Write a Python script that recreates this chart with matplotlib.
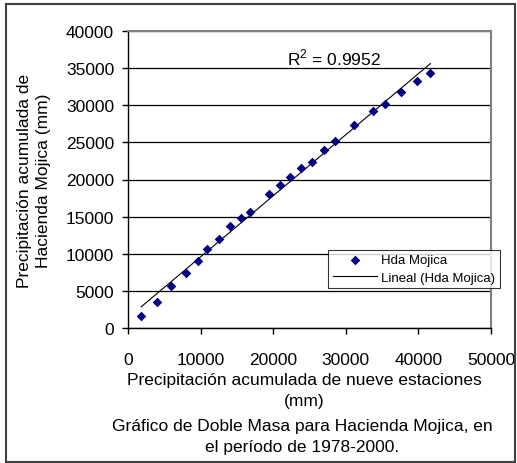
#!/usr/bin/env python

import numpy as np
import matplotlib
matplotlib.use('Agg')
import matplotlib.pyplot as plt
from matplotlib.patches import Rectangle

FIG_W, FIG_H = 517, 464
DPI          = 100
FONT_SIZE    = 12.5
LEGEND_SIZE  = 9.5
MARKER_COLOR = '#000080'

# cumulative precipitation (mm), 1978-2000
nineStations = [1830, 3950, 5880, 7990, 9600, 10840, 12580, 14090, 15610, 16760,
                19380, 20940, 22360, 23870, 25390, 27000, 28550, 31130, 33750,
                35400, 37650, 39850, 41640]
hdaMojica    = [1660, 3500, 5620, 7450, 8980, 10680, 12030, 13700, 14770, 15620,
                18090, 19260, 20300, 21510, 22400, 24010, 25230, 27380, 29270,
                30130, 31790, 33270, 34340]

xTicks  = [0, 10000, 20000, 30000, 40000, 50000]
yTicks  = [0, 5000, 10000, 15000, 20000, 25000, 30000, 35000, 40000]
rSquare = 'R$^2$ = 0.9952'

plt.rcParams['font.family']      = ['Liberation Sans', 'DejaVu Sans']
plt.rcParams['mathtext.fontset'] = 'custom'
plt.rcParams['mathtext.rm']      = 'Liberation Sans'


def px(x, y):
    # pixel position -> figure fraction
    return x / FIG_W, 1 - y / FIG_H


figure = plt.figure(figsize=(FIG_W / DPI, FIG_H / DPI), dpi=DPI)

left, top, right, bottom = 128, 32, 491, 329
ax = figure.add_axes([left / FIG_W, 1 - bottom / FIG_H,
                      (right - left) / FIG_W, (bottom - top) / FIG_H])

ax.scatter(nineStations, hdaMojica, marker='D', s=24, color=MARKER_COLOR,
           linewidths=0, zorder=3, label='Hda Mojica')

slope, intercept = np.polyfit(nineStations, hdaMojica, 1)
xFit = np.array([min(nineStations), max(nineStations)])
ax.plot(xFit, slope * xFit + intercept, color='black', linewidth=0.8, zorder=2,
        label='Lineal (Hda Mojica)')

ax.set_xlim(0, 50000)
ax.set_ylim(0, 40000)
ax.set_xticks(xTicks)
ax.set_yticks(yTicks)
ax.tick_params(axis='both', direction='out', length=4, width=1, labelsize=FONT_SIZE)
ax.tick_params(axis='y', pad=6)
ax.tick_params(axis='x', pad=13)
ax.grid(axis='y', color='black', linewidth=0.9)
ax.set_axisbelow(True)

for side in ('top', 'right'):
    ax.spines[side].set_color('#808080')
    ax.spines[side].set_linewidth(1.5)
for side in ('left', 'bottom'):
    ax.spines[side].set_color('black')
    ax.spines[side].set_linewidth(1)

figure.text(*px(334, 58), rSquare, ha='center', va='center', fontsize=FONT_SIZE)

legend = ax.legend(loc='center', bbox_to_anchor=px(414, 270),
                   bbox_transform=figure.transFigure, fontsize=LEGEND_SIZE, frameon=True,
                   fancybox=False, edgecolor='black', borderpad=0.35,
                   handlelength=3.4, handletextpad=0.3, labelspacing=0.4)
legend.get_frame().set_linewidth(0.8)

figure.text(*px(34, 181), 'Precipitación acumulada de\nHacienda Mojica (mm)',
            rotation=90, ha='center', va='center', fontsize=FONT_SIZE,
            linespacing=1.35)
figure.text(*px(304, 391), 'Precipitación acumulada de nueve estaciones\n(mm)',
            ha='center', va='center', fontsize=FONT_SIZE, linespacing=1.45)
figure.text(*px(302, 437), 'Gráfico de Doble Masa para Hacienda Mojica, en\nel período de 1978-2000.',
            ha='center', va='center', fontsize=FONT_SIZE, linespacing=1.45)

figure.patches.append(Rectangle(px(6, 463), 509 / FIG_W, 458 / FIG_H, fill=False,
                                edgecolor='#404040', linewidth=1.5,
                                transform=figure.transFigure, figure=figure))

figure.savefig('out.png', dpi=DPI)
plt.close(figure)
